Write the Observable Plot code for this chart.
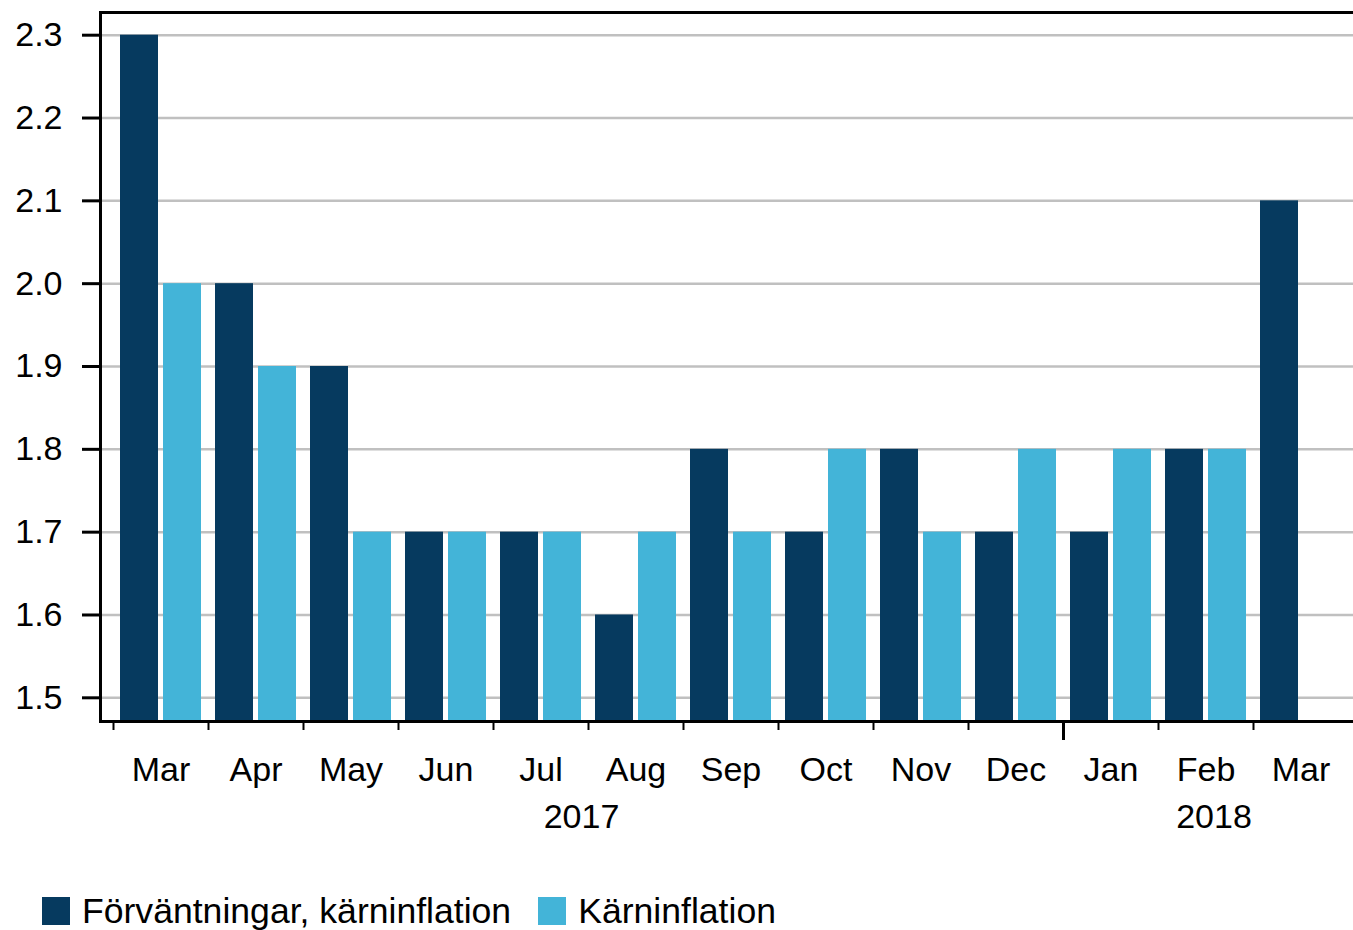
<!DOCTYPE html>
<html>
<head>
<meta charset="utf-8">
<script src="https://cdn.jsdelivr.net/npm/d3@7"></script>
<script src="https://cdn.jsdelivr.net/npm/@observablehq/plot@0.6"></script>
<style>
  body { margin: 0; background: #fff; font-family: "Liberation Sans", Arial, sans-serif; }
  #chart { position: absolute; left: 0; top: 0; }
  #legend { position: absolute; left: 42px; top: 897px; height: 28px; display: flex; align-items: center; font-size: 35.6px; color: #000; white-space: nowrap; }
  .item { display: flex; align-items: center; margin-right: 27px; }
  .sw { width: 28px; height: 28px; margin-right: 12px; }
</style>
</head>
<body>
<div id="chart"></div>
<div id="legend"></div>
<script>
const months = ["2017-03","2017-04","2017-05","2017-06","2017-07","2017-08","2017-09","2017-10","2017-11","2017-12","2018-01","2018-02","2018-03"];
const monthLabels = ["Mar","Apr","May","Jun","Jul","Aug","Sep","Oct","Nov","Dec","Jan","Feb","Mar"];
const expectations = [2.3, 2.0, 1.9, 1.7, 1.7, 1.6, 1.8, 1.7, 1.8, 1.7, 1.7, 1.8, 2.1];
const coreInflation = [2.0, 1.9, 1.7, 1.7, 1.7, 1.7, 1.7, 1.8, 1.7, 1.8, 1.8, 1.8, null];
const yTicks = [1.5, 1.6, 1.7, 1.8, 1.9, 2.0, 2.1, 2.2, 2.3];
const yearLabels = ["2017", "2018"];
const yearAnchorMonths = ["2017-07", "2018-02"];
const yearSeparatorMonths = ["2018-01"];
const seriesNames = ["Förväntningar, kärninflation", "Kärninflation"];
const seriesColors = ["#063a5f", "#43b4d8"];
const yDomain = [1.4714, 2.3274];

const labelOf = new Map(months.map((m, i) => [m, monthLabels[i]]));
const expData = months.map((m, i) => ({month: m, value: expectations[i]}));
const coreData = months.map((m, i) => ({month: m, value: coreInflation[i]})).filter(d => d.value != null);
const minorTickMonths = months.filter(m => !yearSeparatorMonths.includes(m));

const font = "Liberation Sans, Arial, sans-serif";

const chart = Plot.plot({
  width: 1353,
  height: 850,
  marginLeft: 100,
  marginRight: 0,
  marginTop: 12,
  marginBottom: 129,
  style: {fontFamily: font, fontSize: "34px", color: "#000", background: "#fff"},
  x: {type: "band", domain: months, paddingInner: 14 / 95, paddingOuter: 16 / 95, align: 0.625, axis: null, label: null},
  y: {domain: yDomain, axis: null, label: null},
  marks: [
    Plot.ruleY(yTicks, {stroke: "#c0c0c0", strokeWidth: 2.5}),
    Plot.barY(expData, {x: "month", y: "value", fill: seriesColors[0], insetRight: 43, clip: true}),
    Plot.barY(coreData, {x: "month", y: "value", fill: seriesColors[1], insetLeft: 43, clip: true}),
    Plot.ruleY([yDomain[0]], {stroke: "#000", strokeWidth: 3}),
    Plot.ruleY([yDomain[1]], {stroke: "#000", strokeWidth: 3}),
    Plot.frame({anchor: "left", stroke: "#000", strokeWidth: 3}),
    Plot.axisY({ticks: yTicks, tickFormat: d3.format(".1f"), tickSize: 18, tickPadding: 20, strokeWidth: 3, fill: "#000", fontSize: 34, label: null}),
    Plot.axisX({ticks: minorTickMonths, tickSize: 9, tickFormat: () => "", dx: -47.5, strokeWidth: 2, label: null}),
    Plot.axisX({ticks: yearSeparatorMonths, tickSize: 19, tickFormat: () => "", dx: -47.5, strokeWidth: 3, label: null}),
    Plot.axisX({ticks: months, tickSize: 0, tickPadding: 35, tickFormat: d => labelOf.get(d), fill: "#000", fontSize: 34, label: null}),
    Plot.text([yearLabels[0]], {x: () => yearAnchorMonths[0], text: d => d, frameAnchor: "bottom", lineAnchor: "middle", dy: 96, dx: 40.5, fontSize: 34, fill: "#000"}),
    Plot.text([yearLabels[1]], {x: () => yearAnchorMonths[1], text: d => d, frameAnchor: "bottom", lineAnchor: "middle", dy: 96, dx: 8, fontSize: 34, fill: "#000"})
  ]
});
document.getElementById("chart").appendChild(chart);

const legend = document.getElementById("legend");
seriesNames.forEach((name, i) => {
  const item = document.createElement("div");
  item.className = "item";
  const sw = document.createElement("div");
  sw.className = "sw";
  sw.style.background = seriesColors[i];
  const label = document.createElement("span");
  label.textContent = name;
  item.appendChild(sw);
  item.appendChild(label);
  legend.appendChild(item);
});
</script>
</body>
</html>
